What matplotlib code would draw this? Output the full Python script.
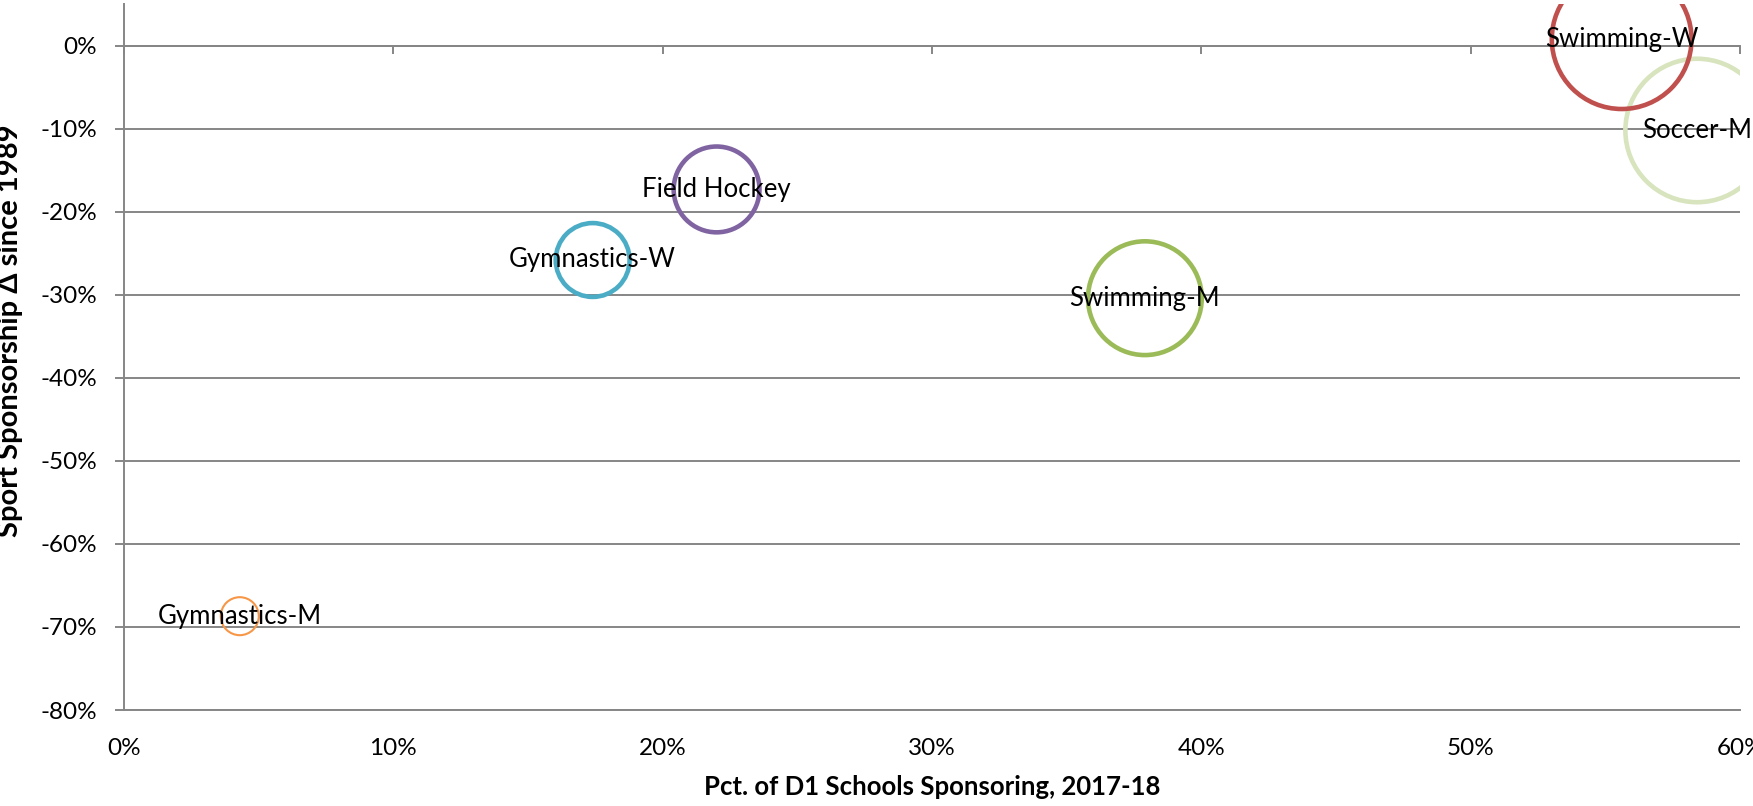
import matplotlib.pyplot as plt
from matplotlib.ticker import PercentFormatter, MultipleLocator

plt.rcParams['font.family'] = ['Lato', 'DejaVu Sans']
plt.rcParams['axes.unicode_minus'] = False

# Sports, share of D1 schools sponsoring (2017-18), change since 1989, bubble weight
sports = ['Gymnastics-M', 'Gymnastics-W', 'Field Hockey', 'Swimming-M', 'Soccer-M', 'Swimming-W']
pct_sponsoring = [0.043, 0.174, 0.220, 0.379, 0.584, 0.556]
change_since_1989 = [-0.687, -0.258, -0.173, -0.304, -0.102, 0.008]
bubble_weight = [6.8, 25.7, 34.7, 61.0, 97.0, 92.0]

colors = ['#F79646', '#4BACC6', '#8064A2', '#9BBB59', '#D7E4BD', '#C0504D']
edge_widths = [1.5, 3.3, 3.3, 3.3, 3.3, 3.3]
grid_gray = '#868686'

fig = plt.figure(figsize=(17.53, 8.06), dpi=100)
ax = fig.add_axes([0.0707, 0.1191, 0.922, 0.8756])

# hollow bubbles, area proportional to weight
for x, y, w, c, lw in zip(pct_sponsoring, change_since_1989, bubble_weight, colors, edge_widths):
    ax.scatter(x, y, s=w * 110, facecolors='none', edgecolors=c, linewidths=lw, zorder=3)

for name, x, y in zip(sports, pct_sponsoring, change_since_1989):
    ax.text(x, y, name, ha='center', va='center', fontsize=18.5, color='black', zorder=4)

ax.set_xlim(0, 0.6)
ax.set_ylim(-0.8, 0.05)
ax.xaxis.set_major_locator(MultipleLocator(0.1))
ax.yaxis.set_major_locator(MultipleLocator(0.1))
ax.xaxis.set_major_formatter(PercentFormatter(1.0, decimals=0))
ax.yaxis.set_major_formatter(PercentFormatter(1.0, decimals=0))

ax.grid(axis='y', color=grid_gray, linewidth=1.4, zorder=1)
ax.set_axisbelow(True)

# horizontal axis crosses at 0%, labels stay at the bottom
ax.spines['top'].set_position(('data', 0))
ax.spines['top'].set_color(grid_gray)
ax.spines['top'].set_linewidth(1.4)
ax.spines['right'].set_visible(False)
ax.spines['bottom'].set_color(grid_gray)
ax.spines['bottom'].set_linewidth(1.4)
ax.spines['left'].set_color(grid_gray)
ax.spines['left'].set_linewidth(1.4)

ax.tick_params(axis='x', bottom=False, top=True, labelbottom=True, labeltop=False,
               direction='in', length=6, width=1.4, color=grid_gray, pad=20, labelsize=17.5)
ax.tick_params(axis='y', direction='out', length=6.5, width=1.4, color=grid_gray,
               pad=13, labelsize=17.5)

ax.set_xlabel('Pct. of D1 Schools Sponsoring, 2017-18', fontsize=18.5, fontweight='bold', labelpad=12)
ax.set_ylabel('Sport Sponsorship Δ since 1989', fontsize=21, fontweight='bold')
ax.yaxis.set_label_coords(-0.0622, 0.538)

fig.savefig('out.png', dpi=100)
